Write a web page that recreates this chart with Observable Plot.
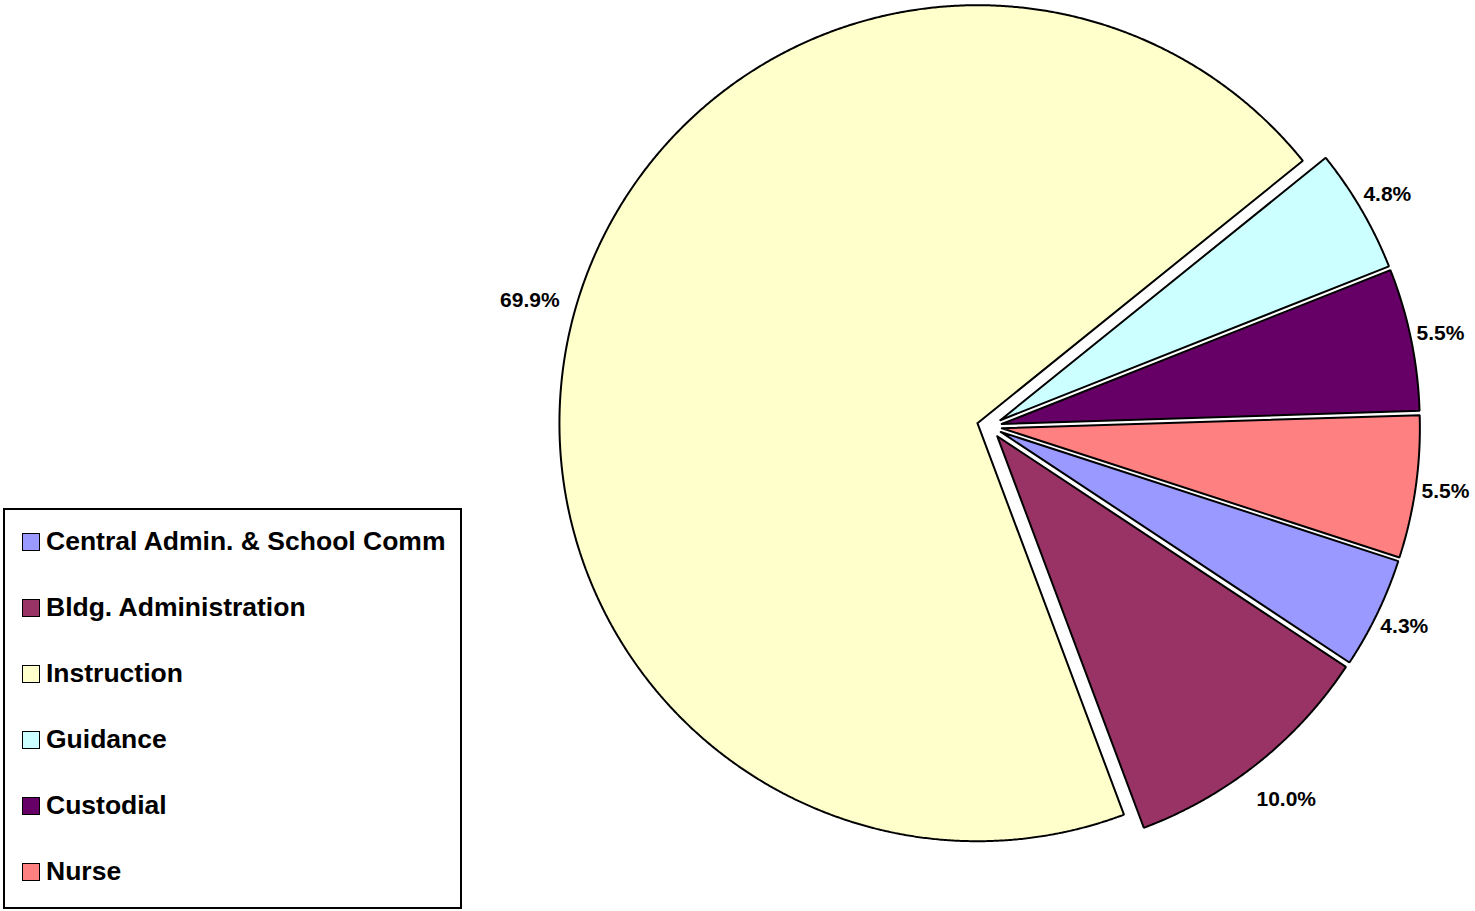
<!DOCTYPE html>
<html>
<head>
<meta charset="utf-8">
<script src="https://cdn.jsdelivr.net/npm/d3@7"></script>
<script src="https://cdn.jsdelivr.net/npm/@observablehq/plot@0.6"></script>
<style>
  html, body { margin: 0; padding: 0; background: #fff; }
  #wrap { position: relative; width: 1475px; height: 911px; font-family: "Liberation Sans", Arial, sans-serif; }
  #legend { position: absolute; left: 3px; top: 508px; width: 455px; height: 397px; border: 2px solid #000; background: #fff; box-sizing: content-box; }
  .item { position: absolute; left: 17px; display: flex; align-items: center; font-weight: bold; font-size: 26.5px; color: #000; white-space: nowrap; }
  .sw { width: 16px; height: 16px; border: 1.5px solid #000; margin-right: 6px; }
</style>
</head>
<body>
<div id="wrap"><div id="chart"></div><div id="legend"></div></div>
<script>
// ---- data ----
const categories = ["Central Admin. & School Comm", "Bldg. Administration", "Instruction", "Guidance", "Custodial", "Nurse"];
const values = [4.3, 10.0, 69.9, 4.8, 5.5, 5.5];
const labels = ["4.3%", "10.0%", "69.9%", "4.8%", "5.5%", "5.5%"];
const colors = ["#9999FF", "#993366", "#FFFFCC", "#CCFFFF", "#660066", "#FF8080"];

// ---- layout ----
const W = 1475, H = 911;
const PX = 418;          // radius in pixels
const CX = 989, CY = 426; // pie centre in pixels
const EXPLODE = 12.5 / PX;
const START = 108 * Math.PI / 180;

const arcs = d3.pie().sort(null).value(d => d)
  .startAngle(START).endAngle(START + 2 * Math.PI)(values);

const pts = [];
const lab = [];
arcs.forEach((a, i) => {
  const mid = (a.startAngle + a.endAngle) / 2;
  const ox = EXPLODE * Math.sin(mid), oy = EXPLODE * Math.cos(mid);
  const name = categories[i];
  pts.push({name, x: ox, y: oy});
  const n = Math.max(8, Math.ceil((a.endAngle - a.startAngle) / (0.25 * Math.PI / 180)));
  for (let k = 0; k <= n; k++) {
    const t = a.startAngle + (a.endAngle - a.startAngle) * k / n;
    pts.push({name, x: ox + Math.sin(t), y: oy + Math.cos(t)});
  }
  pts.push({name, x: ox, y: oy});
  const dist = (PX + 30 + 16 * (labels[i].length - 4)) / PX;
  lab.push({text: labels[i], x: ox + dist * Math.sin(mid), y: oy + dist * Math.cos(mid)});
});

const chart = Plot.plot({
  width: W, height: H,
  margin: 0,
  x: {domain: [-CX / PX, (W - CX) / PX], range: [0, W], axis: null},
  y: {domain: [-(H - CY) / PX, CY / PX], range: [H, 0], axis: null},
  color: {domain: categories, range: colors},
  style: {fontFamily: '"Liberation Sans", Arial, sans-serif', background: "#fff"},
  marks: [
    Plot.line(pts, {x: "x", y: "y", z: "name", fill: "name", stroke: "#000", strokeWidth: 2, strokeLinejoin: "miter", curve: "linear"}),
    Plot.text(lab, {x: "x", y: "y", text: "text", fontSize: 21, fontWeight: "bold", fill: "#000", textAnchor: "middle", lineAnchor: "middle"})
  ]
});
document.getElementById("chart").appendChild(chart);

const leg = document.getElementById("legend");
categories.forEach((c, i) => {
  const d = document.createElement("div");
  d.className = "item";
  d.style.top = (16 + i * 66) + "px";
  d.innerHTML = `<span class="sw" style="background:${colors[i]}"></span><span>${c}</span>`;
  leg.appendChild(d);
});
</script>
</body>
</html>
